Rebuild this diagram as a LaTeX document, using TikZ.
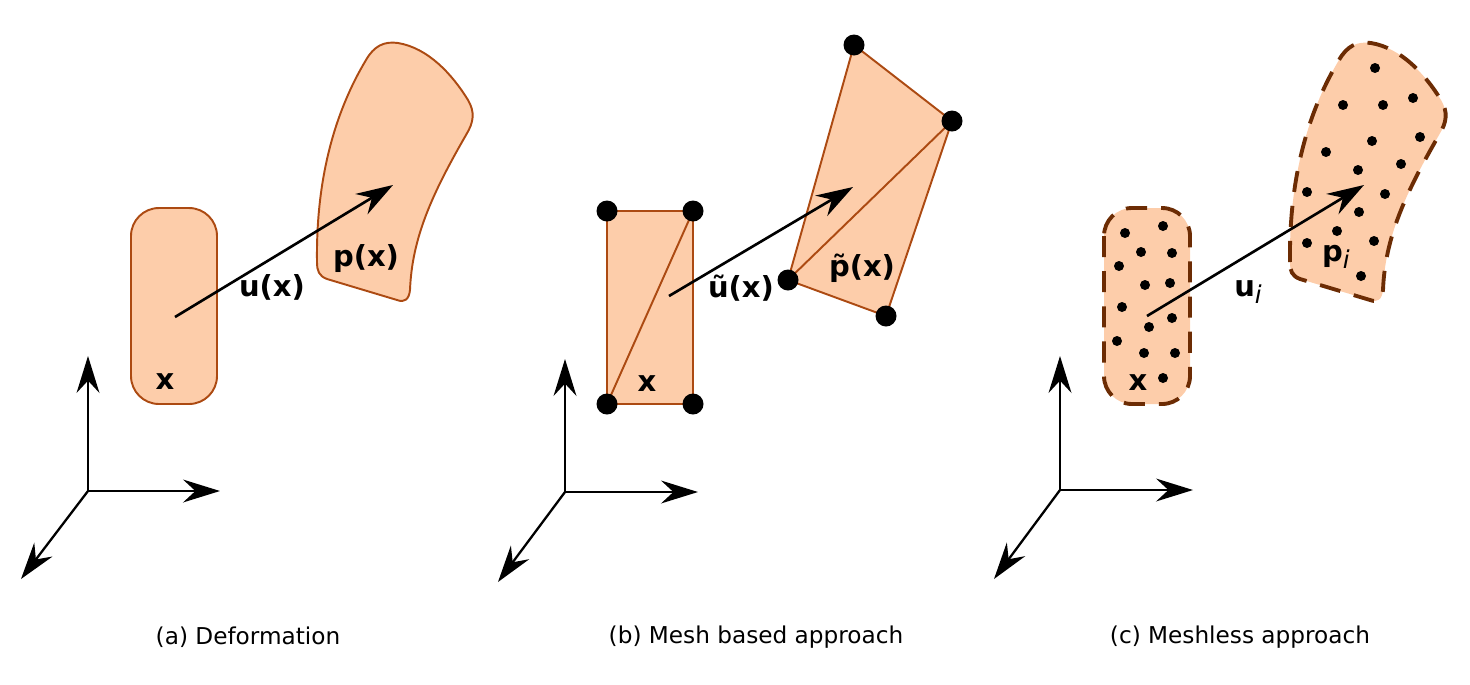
\documentclass[tikz,border=0pt]{standalone}
\usepackage{fontspec}
\setmainfont{DejaVu Sans}
\usetikzlibrary{arrows.meta}

\definecolor{peach}{RGB}{253,205,170}
\definecolor{rust}{RGB}{172,74,18}
\definecolor{darkrust}{RGB}{108,44,4}

% outline of the deformed body (panel a coordinates)
\newcommand\bodyoutline{(317,262) .. controls (316,190) and (330,120) .. (366,60)
  .. controls (374,46) and (384,41) .. (398,43)
  .. controls (428,48) and (452,74) .. (468,100)
  .. controls (475,112) and (474,122) .. (466,135)
  .. controls (432,194) and (412,238) .. (410,290)
  .. controls (409,299) and (405,303) .. (397,300)
  -- (327,279) .. controls (319,276) and (317,271) .. (317,262) -- cycle}

\tikzset{
  vec/.style={-{Stealth[length=21pt,width=13.5pt,inset=7pt]},line width=1.5pt},
  axis/.style={-{Stealth[length=21pt,width=13pt,inset=7pt]},line width=1.3pt},
  body/.style={fill=peach,draw=rust,line width=1.1pt},
  cloud/.style={fill=peach,draw=darkrust,line width=2.2pt,dash pattern=on 12pt off 8pt},
  lbl/.style={font=\fontsize{16.5}{19}\selectfont\bfseries,inner sep=0pt},
  caption/.style={font=\fontsize{13.2}{15}\selectfont,inner sep=0pt},
}

\begin{document}
\begin{tikzpicture}[x=0.02cm,y=-0.02cm]
\useasboundingbox (0,0) rectangle (1470,684);

% (a) Deformation
\begin{scope}
\draw[body,rounded corners=0.56cm] (131,208) rectangle (217,404);
\draw[body] \bodyoutline;
\node[lbl] (xa) at (165,382) {x};
\node[lbl] (pa) at (366,259) {p(x)};
\node[lbl] (ua) at (272,287) {u(x)};
\coordinate (a0) at (175,317);
\coordinate (a1) at (393,185);
\draw[vec] (a0) -- (a1);

% axes
\coordinate (oa) at (88,491);
\coordinate (ya) at (88,356);
\coordinate (xxa) at (220,491);
\coordinate (za) at (21,579);
\draw[axis] (oa) -- (ya);
\draw[axis] (oa) -- (xxa);
\draw[axis] (oa) -- (za);
\node[caption] (capa) at (248,637) {(a) Deformation};
\end{scope}

% (b) Mesh based approach
\begin{scope}
\coordinate (r1) at (607,211);
\coordinate (r2) at (693,211);
\coordinate (r3) at (693,404);
\coordinate (r4) at (607,404);
\draw[body] (r1) -- (r2) -- (r3) -- (r4) -- cycle;
\draw[rust,line width=1.1pt] (r4) -- (r2);
\coordinate (q1) at (854,45);
\coordinate (q2) at (952,121);
\coordinate (q3) at (886,316);
\coordinate (q4) at (788,280);
\draw[body] (q1) -- (q2) -- (q3) -- (q4) -- cycle;
\draw[rust,line width=1.1pt] (q4) -- (q2);
\foreach \p in {r1,r2,r3,r4,q1,q2,q3,q4}
  \fill (\p) circle (0.21cm);
\node[lbl] (xb) at (647,384) {x};
\node[lbl] (pb) at (862,268) {\~{p}(x)};
\node[lbl] (ub) at (741,288) {\~{u}(x)};
\coordinate (b0) at (669,296);
\coordinate (b1) at (853,187);
\draw[vec] (b0) -- (b1);

% axes
\coordinate (ob) at (565,492);
\coordinate (yb) at (565,359);
\coordinate (xxb) at (698,492);
\coordinate (zb) at (498,582);
\draw[axis] (ob) -- (yb);
\draw[axis] (ob) -- (xxb);
\draw[axis] (ob) -- (zb);
\node[caption] (capb) at (756,637) {(b) Mesh based approach};
\end{scope}

% (c) Meshless approach
\begin{scope}
\draw[cloud,rounded corners=0.56cm] (1104,208) rectangle (1190,404);
\begin{scope}[shift={(973,0)}]
\draw[cloud] \bodyoutline;
\end{scope}
% particles
\foreach \px/\py in {1125/233,1163/226,1141/252,1172/253,1119/266,1145/285,1170/283,
    1122/307,1172/318,1149/327,1117/341,1144/353,1175/353,1163/378,
    1375/68,1343/105,1383/105,1413/98,1372/141,1420/137,1326/152,1358/170,
    1401/164,1307/192,1385/194,1359/212,1337/231,1307/243,1374/241,1361/276}
  \fill (\px,\py) circle (0.1cm);
\node[lbl] (xc) at (1138,383) {x};
\node[lbl] (pc) at (1336,257) {p\raisebox{-0.45ex}{\normalfont\itshape\fontsize{14}{16}\selectfont i}};
\node[lbl] (uc) at (1248,292) {u\raisebox{-0.45ex}{\normalfont\itshape\fontsize{14}{16}\selectfont i}};
\coordinate (c0) at (1147,316);
\coordinate (c1) at (1364,185);
\draw[vec] (c0) -- (c1);

% axes
\coordinate (oc) at (1060,490);
\coordinate (yc) at (1060,356);
\coordinate (xxc) at (1193,490);
\coordinate (zc) at (994,579);
\draw[axis] (oc) -- (yc);
\draw[axis] (oc) -- (xxc);
\draw[axis] (oc) -- (zc);
\node[caption] (capc) at (1240,637) {(c) Meshless approach};
\end{scope}
\end{tikzpicture}
\end{document}
